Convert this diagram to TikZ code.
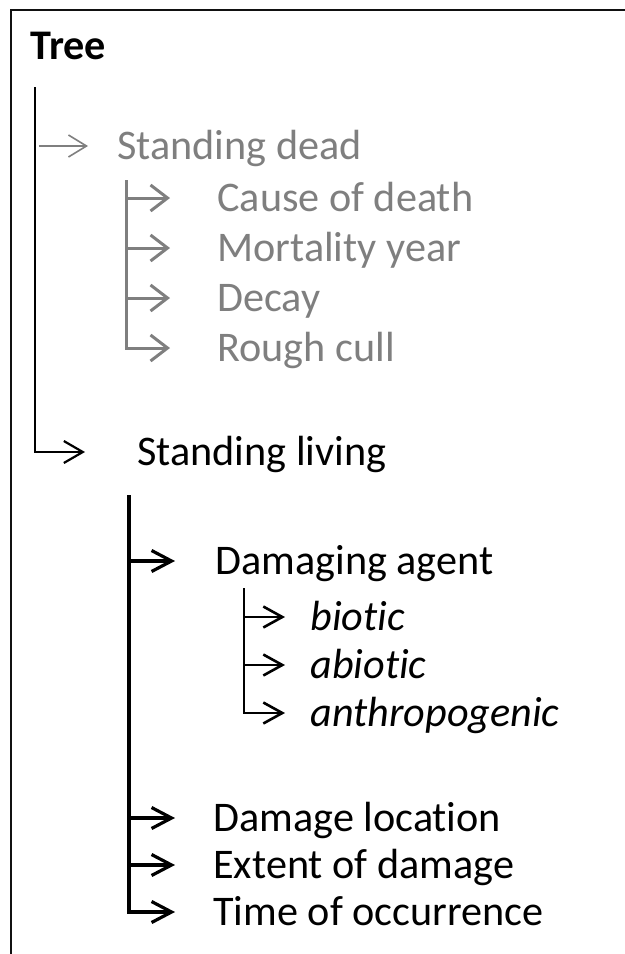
\documentclass[tikz,border=0pt]{standalone}
\usepackage{fontspec}
\setmainfont{Carlito}[Ligatures=NoCommon]
\usepackage{tikz}
\usetikzlibrary{arrows.meta,positioning}
\definecolor{DeadGray}{HTML}{7F7F7F}
\definecolor{FrameBlack}{HTML}{111111}
\newcommand{\itemsize}{\fontsize{21.1pt}{25pt}\selectfont}

\begin{document}
\begin{tikzpicture}[x=0.5pt,y=-0.5pt,
  lbl/.style={anchor=west,inner ysep=0pt,inner xsep=#1,text height=13.3pt,text depth=0pt,font=\itemsize},
  lbl/.default=0pt,
  thinarr/.style={DeadGray,line width=0.8pt,-{Straight Barb[length=9pt,width=11pt]}},
  deadarr/.style={DeadGray,line width=1.5pt,-{Straight Barb[length=8.5pt,width=13pt]}},
  mainarr/.style={black,line width=1.1pt,-{Straight Barb[length=9.5pt,width=11pt]}},
  agentarr/.style={black,line width=1.6pt,-{Straight Barb[length=10pt,width=10.5pt]}},
  subarr/.style={black,line width=1.3pt,-{Straight Barb[length=9.5pt,width=10.5pt]}}]
\useasboundingbox (0,0) rectangle (625,954);
\draw[FrameBlack,line width=1pt] (10.5,954) |- (625,9.5);
\node[anchor=base west,inner sep=0pt,font=\itemsize\bfseries] (tree) at (30,59) {Tree};
\coordinate (mtop) at (35,87);
% standing dead, in grey
\node[lbl=14.5pt,text=DeadGray] (dead) at (88,146) {Standing dead};
\coordinate (dtop) at (126,180);
\node[lbl=23.5pt,text=DeadGray] (cause) at (170,198) {Cause of death};
\node[below=25pt of cause.west,lbl=23.5pt,text=DeadGray] (mort) {Mortality year};
\node[below=25pt of mort.west,lbl=23.5pt,text=DeadGray] (decay) {Decay};
\node[below=25pt of decay.west,lbl=23.5pt,text=DeadGray] (rough) {Rough cull};
% standing living
\node[lbl=26pt] (living) at (85,452) {Standing living};
\coordinate (ltop) at (129,495);
\node[lbl=20pt] (agent) at (175,561) {Damaging agent};
\coordinate (atop) at (244,588);
\node[lbl=12.5pt,font=\itemsize\itshape] (biotic) at (285,617) {biotic};
\node[below=24pt of biotic.west,lbl=12.5pt,font=\itemsize\itshape] (abiotic) {abiotic};
\node[below=24pt of abiotic.west,lbl=12.5pt,font=\itemsize\itshape] (anthro) {anthropogenic};
\node[lbl=19pt] (location) at (175,818) {Damage location};
\node[below=23.5pt of location.west,lbl=19pt] (extent) {Extent of damage};
\node[below=23.5pt of extent.west,lbl=19pt] (time) {Time of occurrence};
\draw[thinarr] ([xshift=2pt]mtop |- dead.west) -- (dead.west);
\draw[mainarr] (mtop) |- (living.west);
\draw[deadarr] (dtop) |- (rough.west);\draw[deadarr] (dtop |- cause.west) -- (cause.west);\draw[deadarr] (dtop |- mort.west) -- (mort.west);\draw[deadarr] (dtop |- decay.west) -- (decay.west);
\draw[agentarr] (ltop) |- (time.west);\draw[agentarr] (ltop |- agent.west) -- (agent.west);\draw[agentarr] (ltop |- location.west) -- (location.west);\draw[agentarr] (ltop |- extent.west) -- (extent.west);
\draw[subarr] (atop) |- (anthro.west);\draw[subarr] (atop |- biotic.west) -- (biotic.west);\draw[subarr] (atop |- abiotic.west) -- (abiotic.west);
\end{tikzpicture}
\end{document}
